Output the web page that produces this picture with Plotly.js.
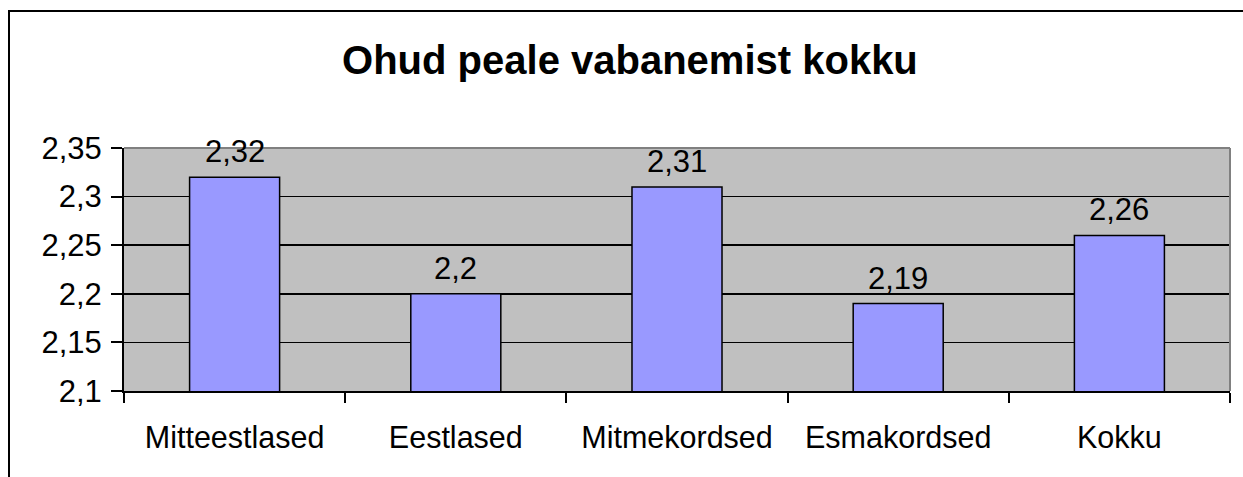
<!DOCTYPE html>
<html>
<head>
<meta charset="utf-8">
<script src="https://cdn.plot.ly/plotly-3.0.1.min.js"></script>
<style>
  html, body { margin: 0; padding: 0; background: #ffffff; overflow: hidden; }
  #wrap { position: relative; width: 1243px; height: 477px; }
  #chart { width: 1243px; height: 477px; }
  #frame { position: absolute; left: 8px; top: 10px; width: 1300px; height: 600px;
           border: 2px solid #000000; pointer-events: none; box-sizing: border-box; }
</style>
</head>
<body>
<div id="wrap">
  <div id="chart"></div>
  <div id="frame"></div>
</div>
<script>
const categories = ["Mitteestlased", "Eestlased", "Mitmekordsed", "Esmakordsed", "Kokku"];
const values = [2.32, 2.2, 2.31, 2.19, 2.26];
const valueLabels = ["2,32", "2,2", "2,31", "2,19", "2,26"];
const yTickVals = [2.1, 2.15, 2.2, 2.25, 2.3, 2.35];
const yTickText = ["2,1", "2,15", "2,2", "2,25", "2,3", "2,35"];

const font = "'Liberation Sans', Arial, sans-serif";

const trace = {
  type: "bar",
  x: categories,
  y: values,
  marker: { color: "#9999FF", line: { color: "#000000", width: 1.5 } },
  hoverinfo: "none"
};

const annotations = categories.map((c, i) => ({
  x: c, y: values[i], xref: "x", yref: "y",
  text: valueLabels[i], showarrow: false,
  yanchor: "bottom", yshift: 6,
  font: { family: font, size: 31, color: "#000000" }
}));

const layout = {
  width: 1243, height: 477,
  margin: { l: 124, r: 13, t: 148, b: 86, pad: 0 },
  paper_bgcolor: "#ffffff",
  plot_bgcolor: "#C0C0C0",
  separators: ", ",
  showlegend: false,
  bargap: 0.593,
  title: {
    text: "<b>Ohud peale vabanemist kokku</b>",
    font: { family: font, size: 40, color: "#000000" },
    x: 0.5068, xref: "container", xanchor: "center",
    y: 0.874, yref: "container", yanchor: "middle"
  },
  xaxis: {
    type: "category",
    tickson: "boundaries",
    ticks: "outside", ticklen: 10, tickwidth: 2, tickcolor: "#000000",
    showline: true, linecolor: "#000000", linewidth: 2,
    showgrid: false,
    ticklabelstandoff: 18,
    tickfont: { family: font, size: 30.5, color: "#000000" },
    fixedrange: true
  },
  yaxis: {
    range: [2.1, 2.35],
    tickvals: yTickVals, ticktext: yTickText,
    ticks: "outside", ticklen: 11, tickwidth: 2, tickcolor: "#000000",
    showline: true, linecolor: "#000000", linewidth: 2,
    showgrid: true, gridcolor: "#000000", gridwidth: 1.5,
    zeroline: false,
    ticklabelstandoff: 3,
    tickfont: { family: font, size: 31, color: "#000000" },
    fixedrange: true
  },
  shapes: [
    { type: "line", xref: "paper", yref: "paper", x0: 0, x1: 1, y0: 1, y1: 1,
      line: { color: "#808080", width: 2 }, layer: "above" },
    { type: "line", xref: "paper", yref: "paper", x0: 1, x1: 1, y0: 0, y1: 1,
      line: { color: "#808080", width: 2 }, layer: "above" }
  ],
  annotations: annotations
};

Plotly.newPlot("chart", [trace], layout, { displayModeBar: false, staticPlot: true });
</script>
</body>
</html>
